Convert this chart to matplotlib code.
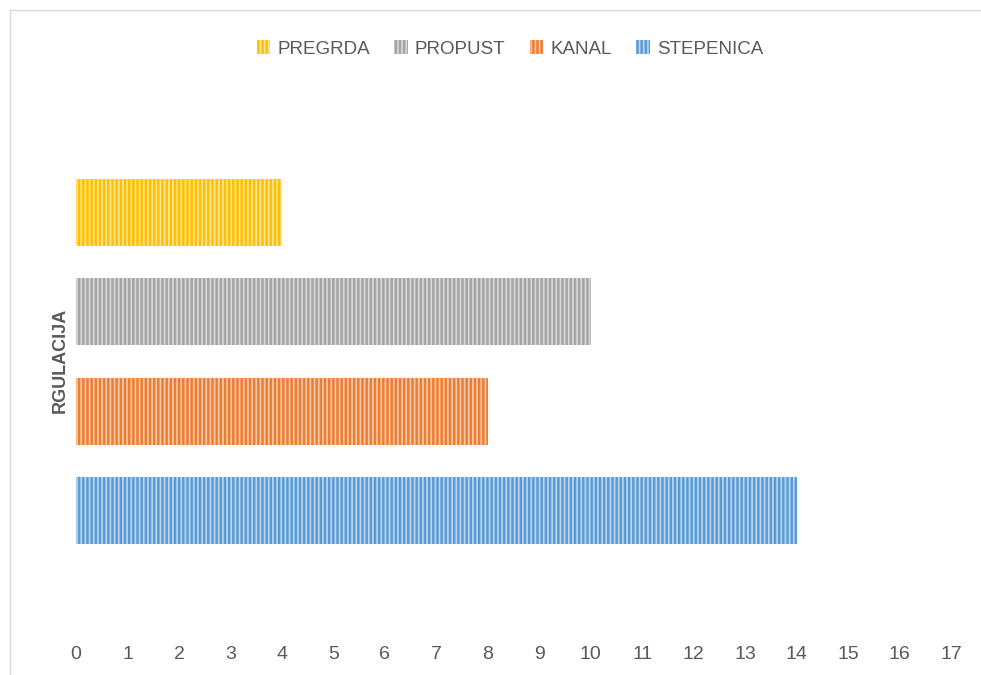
import matplotlib.pyplot as plt
from matplotlib.patches import Rectangle

plt.rcParams['font.family'] = ['Liberation Sans Narrow', 'Liberation Sans', 'DejaVu Sans']
plt.rcParams['hatch.linewidth'] = 1.2

# serije (odozgo prema dolje na grafikonu)
series = ['PREGRDA', 'PROPUST', 'KANAL', 'STEPENICA']
values = [4, 10, 8, 14]
colors = ['#FFC000', '#A5A5A5', '#ED7D31', '#5B9BD5']
stripes = ['#FFE699', '#D9D9D9', '#F8CBAD', '#BDD7EE']
category = 'RGULACIJA'

fig = plt.figure(figsize=(9.81, 6.75), dpi=100)
W, H = 981, 675
ax = fig.add_axes([76 / W, 1 - 625 / H, (951 - 76) / W, (625 - 95) / H])

pos = [3, 2, 1, 0]
for p, v, c, s, name in zip(pos, values, colors, stripes, series):
    ax.barh(p, v, height=0.67, color=c, edgecolor=s, hatch='||||', linewidth=0, label=name)

ax.set_xlim(0, 17)
ax.set_ylim(-1.15, 4.18)
ax.set_xticks(range(0, 18))
ax.set_yticks([])
for sp in ax.spines.values():
    sp.set_visible(False)
ax.tick_params(axis='x', length=0, pad=15, labelsize=14, labelcolor='#595959')

fig.text(60 / W, 1 - 360 / H, category, rotation=90, ha='center', va='center',
         fontsize=13, fontweight='bold', color='#595959')

fig.legend(loc='center', bbox_to_anchor=(510 / W, 1 - 49 / H), ncol=4, frameon=False,
           fontsize=13.5, labelcolor='#595959', handlelength=0.7, handleheight=0.7,
           handletextpad=0.4, columnspacing=1.3)

# okvir grafikona
fig.patches.append(Rectangle((10 / W, -0.01), 1.0, 1 - 10 / H + 0.01, transform=fig.transFigure,
                             fill=False, edgecolor='#D9D9D9', linewidth=1))

fig.savefig('out.png', dpi=100)
